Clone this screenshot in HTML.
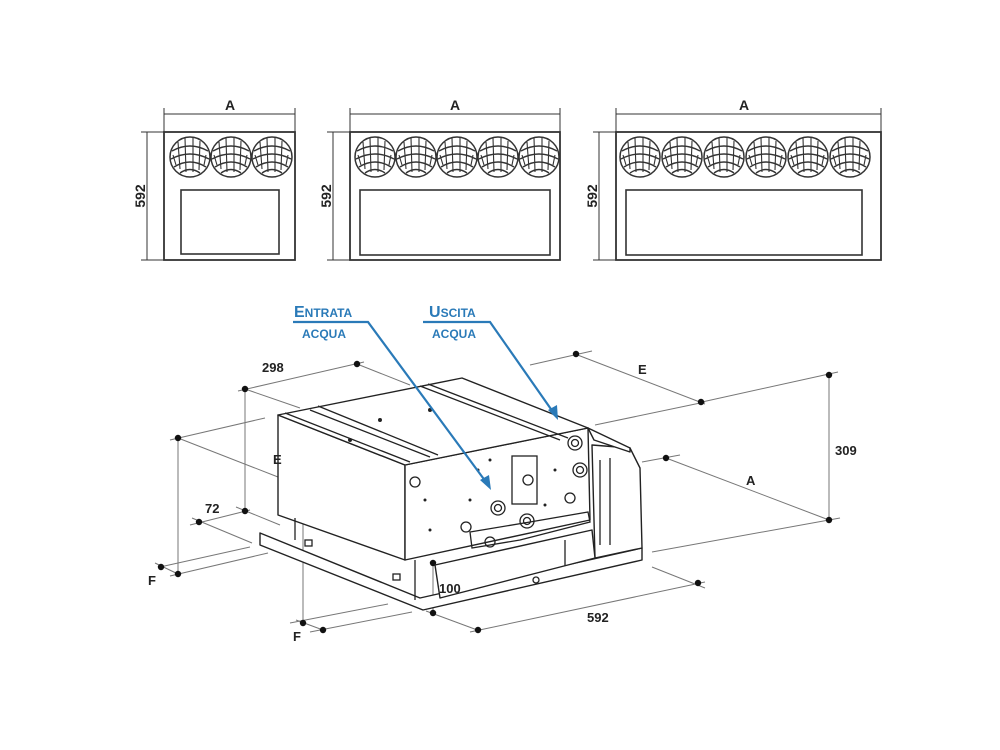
<!DOCTYPE html>
<html><head><meta charset="utf-8"><style>
html,body{margin:0;padding:0;background:#fff;}
svg{display:block;font-family:"Liberation Sans",Arial,sans-serif;}
</style></head><body>
<svg width="1000" height="750" viewBox="0 0 1000 750" xmlns="http://www.w3.org/2000/svg">
<defs>
<g id="fan">
<circle r="20" fill="#fff" stroke="#333" stroke-width="1.5"/>
<path d="M-18,-6 Q0,-16 18,-6 M-19,2 Q0,-8 19,2 M-16,10 Q0,0 16,10 M-10,16 Q0,9 10,16" fill="none" stroke="#333" stroke-width="1.4"/>
<path d="M-12,-15 L-10,12 M-5,-19 L-4,15 M3,-19 L3,15 M10,-16 L9,13 M-17,-2 L-14,8 M16,-2 L14,8" fill="none" stroke="#333" stroke-width="1.1"/>
</g>
</defs>
<g stroke="#333" fill="none" stroke-width="1">
<line x1="164" y1="114" x2="295" y2="114"/><line x1="164" y1="108" x2="164" y2="132"/><line x1="295" y1="108" x2="295" y2="132"/>
<line x1="147" y1="132" x2="147" y2="260"/><line x1="141" y1="132" x2="164" y2="132"/><line x1="141" y1="260" x2="164" y2="260"/>
<rect x="164" y="132" width="131" height="128" stroke-width="1.8"/>
<rect x="181" y="190" width="98" height="64" stroke-width="1.6"/>
<line x1="350" y1="114" x2="560" y2="114"/><line x1="350" y1="108" x2="350" y2="132"/><line x1="560" y1="108" x2="560" y2="132"/>
<line x1="333" y1="132" x2="333" y2="260"/><line x1="327" y1="132" x2="350" y2="132"/><line x1="327" y1="260" x2="350" y2="260"/>
<rect x="350" y="132" width="210" height="128" stroke-width="1.8"/>
<rect x="360" y="190" width="190" height="65" stroke-width="1.6"/>
<line x1="616" y1="114" x2="881" y2="114"/><line x1="616" y1="108" x2="616" y2="132"/><line x1="881" y1="108" x2="881" y2="132"/>
<line x1="599" y1="132" x2="599" y2="260"/><line x1="593" y1="132" x2="616" y2="132"/><line x1="593" y1="260" x2="616" y2="260"/>
<rect x="616" y="132" width="265" height="128" stroke-width="1.8"/>
<rect x="626" y="190" width="236" height="65" stroke-width="1.6"/>
</g>
<g>
<use href="#fan" x="190" y="157"/><use href="#fan" x="231" y="157"/><use href="#fan" x="272" y="157"/>
<use href="#fan" x="375" y="157"/><use href="#fan" x="416" y="157"/><use href="#fan" x="457" y="157"/><use href="#fan" x="498" y="157"/><use href="#fan" x="539" y="157"/>
<use href="#fan" x="640" y="157"/><use href="#fan" x="682" y="157"/><use href="#fan" x="724" y="157"/><use href="#fan" x="766" y="157"/><use href="#fan" x="808" y="157"/><use href="#fan" x="850" y="157"/>
</g>
<g font-size="14" font-weight="bold" fill="#222">
<text x="230" y="110" text-anchor="middle">A</text>
<text x="455" y="110" text-anchor="middle">A</text>
<text x="744" y="110" text-anchor="middle">A</text>
<text transform="translate(145,196) rotate(-90)" text-anchor="middle">592</text>
<text transform="translate(331,196) rotate(-90)" text-anchor="middle">592</text>
<text transform="translate(597,196) rotate(-90)" text-anchor="middle">592</text>
</g>

<g stroke="#777" stroke-width="1" fill="none">
<line x1="238" y1="391" x2="364" y2="362"/>
<line x1="357" y1="364" x2="410" y2="385"/>
<line x1="245" y1="389" x2="300" y2="408"/>
<line x1="245" y1="389" x2="245" y2="511"/>
<line x1="236" y1="507" x2="280" y2="525"/>
<line x1="190" y1="525" x2="250" y2="510"/>
<line x1="192" y1="518" x2="252" y2="543"/>
<line x1="170" y1="440" x2="265" y2="418"/>
<line x1="178" y1="438" x2="278" y2="477"/>
<line x1="178" y1="438" x2="178" y2="574"/>
<line x1="160" y1="567" x2="250" y2="547"/>
<line x1="170" y1="576" x2="268" y2="553"/>
<line x1="155" y1="563" x2="178" y2="574"/>
<line x1="296" y1="488" x2="385" y2="470"/>
<line x1="303" y1="487" x2="303" y2="623"/>
<line x1="290" y1="623" x2="388" y2="604"/>
<line x1="310" y1="632" x2="412" y2="612"/>
<line x1="296" y1="620" x2="323" y2="630"/>
<line x1="433" y1="560" x2="433" y2="615"/>
<line x1="426" y1="611" x2="480" y2="631"/>
<line x1="470" y1="632" x2="705" y2="582"/>
<line x1="652" y1="567" x2="705" y2="588"/>
<line x1="575" y1="354" x2="705" y2="404"/>
<line x1="530" y1="365" x2="592" y2="351"/>
<line x1="595" y1="425" x2="705" y2="402"/>
<line x1="702" y1="402" x2="838" y2="372"/>
<line x1="829" y1="375" x2="829" y2="520"/>
<line x1="652" y1="552" x2="840" y2="518"/>
<line x1="642" y1="462" x2="680" y2="455"/>
<line x1="666" y1="458" x2="829" y2="520"/>
<line x1="469" y1="588" x2="520" y2="577"/>
</g>
<g fill="#111">
<circle cx="357" cy="364" r="3.2"/><circle cx="245" cy="389" r="3.2"/><circle cx="245" cy="511" r="3.2"/>
<circle cx="199" cy="522" r="3.2"/><circle cx="178" cy="438" r="3.2"/><circle cx="178" cy="574" r="3.2"/>
<circle cx="161" cy="567" r="3.2"/><circle cx="303" cy="487" r="3.2"/><circle cx="303" cy="623" r="3.2"/>
<circle cx="323" cy="630" r="3.2"/><circle cx="433" cy="563" r="3.2"/><circle cx="433" cy="613" r="3.2"/>
<circle cx="478" cy="630" r="3.2"/><circle cx="698" cy="583" r="3.2"/><circle cx="576" cy="354" r="3.2"/>
<circle cx="701" cy="402" r="3.2"/><circle cx="829" cy="375" r="3.2"/><circle cx="829" cy="520" r="3.2"/>
<circle cx="666" cy="458" r="3.2"/>
</g>

<g stroke="#222" stroke-width="1.4" fill="#fff" stroke-linejoin="round">
<polygon points="260,533 420,598 642,548 642,560 423,610 260,545"/>
<polygon points="630,448 640,468 642,548 595,558 592,445"/>
<polygon points="435,565 592,530 595,558 440,598"/>
<polygon points="278,415 405,465 405,560 278,515"/>
<polygon points="405,465 588,428 590,520 405,560"/>
<polygon points="278,415 462,378 588,428 405,465"/>
<polygon points="588,428 630,448 630,452 594,440"/>
</g>
<g stroke="#222" stroke-width="1.3" fill="none">
<line x1="285" y1="413" x2="410" y2="462"/>
<line x1="310" y1="410" x2="430" y2="457"/>
<line x1="318" y1="406" x2="438" y2="455"/>
<line x1="420" y1="386" x2="560" y2="440"/>
<line x1="428" y1="384" x2="568" y2="438"/>
<line x1="295" y1="518" x2="295" y2="540"/>
<line x1="415" y1="560" x2="415" y2="600"/>
<rect x="512" y="456" width="25" height="48"/>
<circle cx="415" cy="482" r="5"/>
<circle cx="498" cy="508" r="7"/><circle cx="498" cy="508" r="3.5"/>
<circle cx="527" cy="521" r="7"/><circle cx="527" cy="521" r="3.5"/>
<circle cx="575" cy="443" r="7"/><circle cx="575" cy="443" r="3.5"/>
<circle cx="580" cy="470" r="7"/><circle cx="580" cy="470" r="3.5"/>
<circle cx="570" cy="498" r="5"/>
<circle cx="528" cy="480" r="5"/>
<path d="M470,532 L530,522 L588,512 L590,522 L520,540 L472,548 Z"/>
<circle cx="466" cy="527" r="5"/><circle cx="490" cy="542" r="5"/>
<rect x="305" y="540" width="7" height="6"/><rect x="393" y="574" width="7" height="6"/>
<line x1="600" y1="460" x2="600" y2="545"/><line x1="610" y1="458" x2="610" y2="545"/>
<line x1="565" y1="540" x2="565" y2="566"/>
<circle cx="536" cy="580" r="3"/>
</g>
<g fill="#222">
<circle cx="470" cy="500" r="1.5"/><circle cx="478" cy="470" r="1.5"/><circle cx="490" cy="460" r="1.5"/>
<circle cx="555" cy="470" r="1.5"/><circle cx="545" cy="505" r="1.5"/><circle cx="425" cy="500" r="1.5"/>
<circle cx="430" cy="530" r="1.5"/><circle cx="380" cy="420" r="2"/><circle cx="350" cy="440" r="2"/><circle cx="430" cy="410" r="2"/>
</g>

<g font-size="13" font-weight="bold" fill="#222">
<text x="262" y="372">298</text>
<text x="273" y="464">E</text>
<text x="205" y="513">72</text>
<text x="148" y="585">F</text>
<text x="293" y="641">F</text>
<text x="439" y="593">100</text>
<text x="587" y="622">592</text>
<text x="638" y="374">E</text>
<text x="835" y="455">309</text>
<text x="746" y="485">A</text>
</g>
<g fill="#2a7ab8" font-weight="bold">
<text x="294" y="317" font-size="16">E<tspan font-size="12">NTRATA</tspan></text>
<text x="302" y="338" font-size="12">ACQUA</text>
<text x="429" y="317" font-size="16">U<tspan font-size="12">SCITA</tspan></text>
<text x="432" y="338" font-size="12">ACQUA</text>
</g>
<g stroke="#2a7ab8" stroke-width="2.2" fill="#2a7ab8">
<polyline points="293,322 368,322 486,482" fill="none"/>
<polygon points="491,490 480,480 489,475" stroke="none"/>
<polyline points="423,322 490,322 553,412" fill="none"/>
<polygon points="558,420 548,410 557,405" stroke="none"/>
</g>
</svg>
</body></html>
